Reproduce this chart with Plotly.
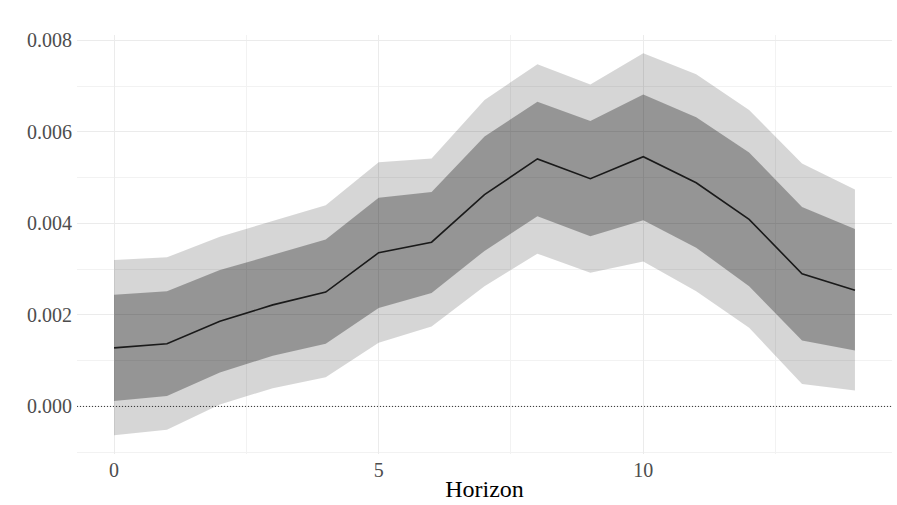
import plotly.graph_objects as go

horizon = list(range(15))
irf = [0.00128, 0.00137, 0.00186, 0.00222, 0.00250, 0.00336, 0.00359, 0.00463,
       0.00541, 0.00498, 0.00546, 0.00489, 0.00409, 0.00290, 0.00254]
upper_68 = [0.00244, 0.00252, 0.00298, 0.00332, 0.00365, 0.00456, 0.00469, 0.00590,
            0.00666, 0.00624, 0.00682, 0.00632, 0.00555, 0.00436, 0.00388]
lower_68 = [0.00012, 0.00023, 0.00074, 0.00111, 0.00137, 0.00215, 0.00248, 0.00340,
            0.00416, 0.00372, 0.00407, 0.00347, 0.00263, 0.00144, 0.00122]
upper_95 = [0.00320, 0.00326, 0.00371, 0.00405, 0.00440, 0.00534, 0.00542, 0.00670,
            0.00748, 0.00704, 0.00772, 0.00726, 0.00648, 0.00531, 0.00474]
lower_95 = [-0.00063, -0.00051, 0.00004, 0.00040, 0.00064, 0.00139, 0.00175, 0.00263,
            0.00334, 0.00292, 0.00317, 0.00252, 0.00172, 0.00049, 0.00035]

x_ticks = [0, 5, 10]
y_ticks = [0.0, 0.002, 0.004, 0.006, 0.008]

serif = "Liberation Serif, Times New Roman, serif"
grid = "#ebebeb"

fig = go.Figure()

# outer (95%) band
fig.add_trace(go.Scatter(x=horizon, y=lower_95, mode="lines", line=dict(width=0),
                         hoverinfo="skip", showlegend=False))
fig.add_trace(go.Scatter(x=horizon, y=upper_95, mode="lines", line=dict(width=0),
                         fill="tonexty", fillcolor="rgba(0,0,0,0.16)",
                         hoverinfo="skip", showlegend=False))
# inner (68%) band
fig.add_trace(go.Scatter(x=horizon, y=lower_68, mode="lines", line=dict(width=0),
                         hoverinfo="skip", showlegend=False))
fig.add_trace(go.Scatter(x=horizon, y=upper_68, mode="lines", line=dict(width=0),
                         fill="tonexty", fillcolor="rgba(0,0,0,0.30)",
                         hoverinfo="skip", showlegend=False))
# point estimate
fig.add_trace(go.Scatter(x=horizon, y=irf, mode="lines",
                         line=dict(color="#1a1a1a", width=1.6), showlegend=False))

fig.add_hline(y=0, line_dash="1px,2px", line_color="#333333", line_width=1)

fig.update_layout(
    width=897, height=505,
    paper_bgcolor="white", plot_bgcolor="white",
    margin=dict(l=77, r=5, t=35, b=51, autoexpand=False),
    font=dict(family=serif, color="#4d4d4d", size=20),
    showlegend=False,
    xaxis=dict(
        range=[-0.7, 14.7], tickvals=x_ticks, ticktext=[str(t) for t in x_ticks],
        tickfont=dict(family=serif, size=20, color="#4d4d4d"),
        showgrid=True, gridcolor=grid, gridwidth=1, zeroline=False, showline=False,
        ticks="", ticklabelstandoff=2, automargin=False,
        minor=dict(tickvals=[2.5, 7.5, 12.5], showgrid=True, gridcolor="#f2f2f2", gridwidth=1),
        title=dict(text="Horizon", font=dict(family=serif, size=24, color="black"), standoff=0),
    ),
    yaxis=dict(
        range=[-0.00104, 0.00812], tickvals=y_ticks, ticktext=[f"{t:.3f}" for t in y_ticks],
        tickfont=dict(family=serif, size=20, color="#4d4d4d"),
        showgrid=True, gridcolor=grid, gridwidth=1, zeroline=False, showline=False,
        ticks="", ticklabelstandoff=4, automargin=False,
        minor=dict(tickvals=[-0.001, 0.001, 0.003, 0.005, 0.007], showgrid=True,
                   gridcolor="#f2f2f2", gridwidth=1),
    ),
)

# drop the page's default body margin so the figure sits at the window's corner
fig.write_html("out.html", config={"displayModeBar": False},
               post_script="document.body.style.margin='0px';")
